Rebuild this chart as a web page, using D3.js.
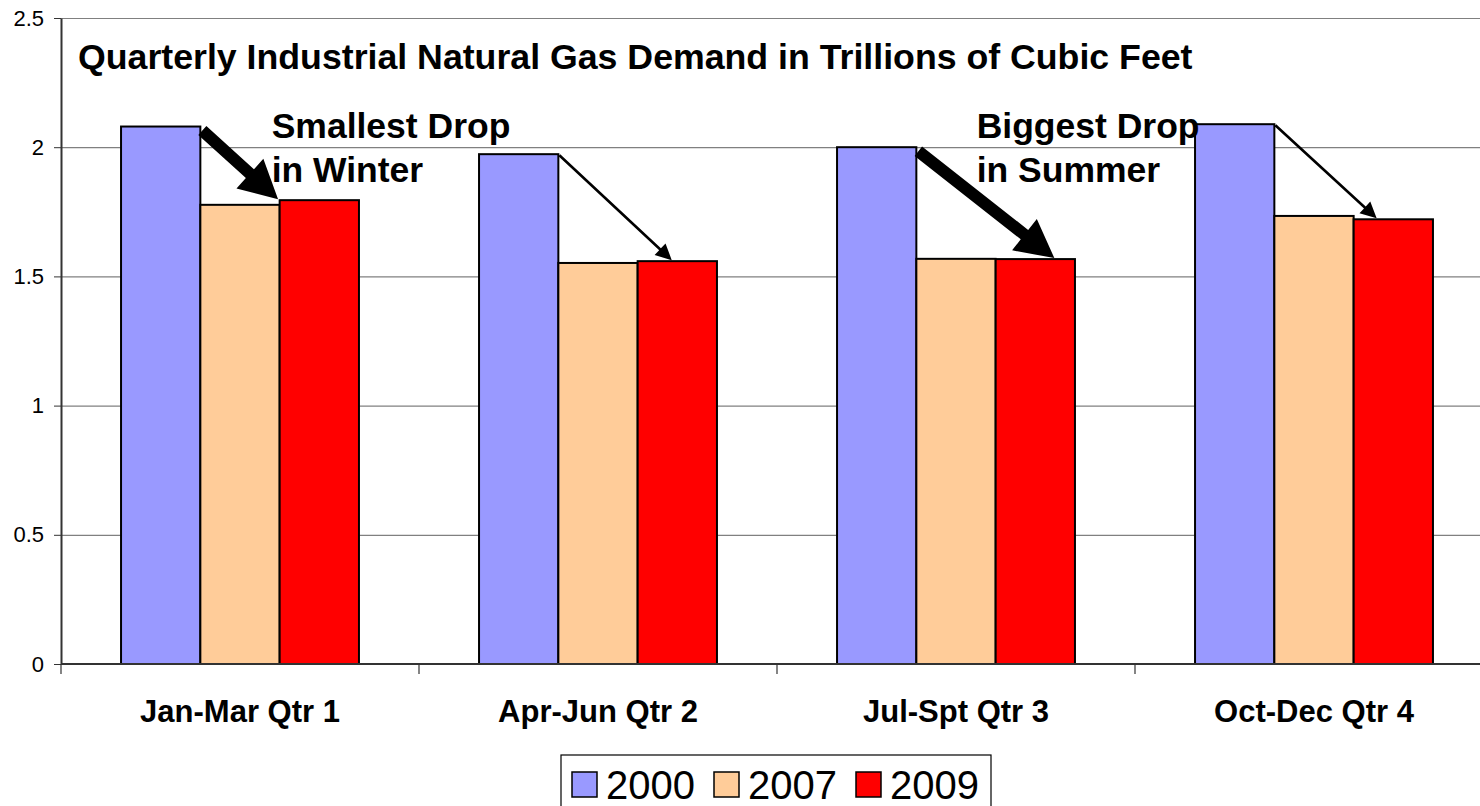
<!DOCTYPE html>
<html>
<head>
<meta charset="utf-8">
<script src="https://cdn.jsdelivr.net/npm/d3@7"></script>
<style>
  body { margin: 0; background: #fff; }
  svg { display: block; font-family: "Liberation Sans", Arial, sans-serif; }
</style>
</head>
<body>
<svg id="chart" width="1480" height="806"></svg>
<script>
// data
const quarters = ['Jan-Mar Qtr 1', 'Apr-Jun Qtr 2', 'Jul-Spt Qtr 3', 'Oct-Dec Qtr 4'];
const years = ['2000', '2007', '2009'];
const demand2000 = [2.08, 1.973, 2.0, 2.089];
const demand2007 = [1.777, 1.552, 1.568, 1.734];
const demand2009 = [1.795, 1.559, 1.567, 1.721];
const yTicks = [0, 0.5, 1, 1.5, 2, 2.5];
const colors = ['#9999ff', '#ffcc99', '#ff0000'];

const title = 'Quarterly Industrial Natural Gas Demand in Trillions of Cubic Feet';
// arrow from the 2000 bar to the 2009 bar in the same quarter
const arrowQuarters = [0, 1, 2, 3];
const arrowEndFrac = [-0.02, 0.43, 0.74, 0.29];
const arrowHeavy = [true, false, true, false];
const notes = [
  { q: 0, dx: -8, lines: ['Smallest Drop', 'in Winter'] },
  { q: 2, dx: -19, lines: ['Biggest Drop', 'in Summer'] }
];

const series = [demand2000, demand2007, demand2009];
const margin = { top: 18, left: 61 };
const step = 358;
const plotH = 646;

const svg = d3.select('#chart');
const g = svg.append('g')
  .attr('transform', 'translate(' + margin.left + ',' + margin.top + ')');

let x = d3.scaleBand()
  .domain(quarters)
  .range([0, step * quarters.length]);

let xs = d3.scaleBand()
  .domain(years)
  .range([0, x.bandwidth()])
  .paddingOuter(0.757);

let y = d3.scaleLinear()
  .domain([0, 2.5])
  .range([plotH, 0]);

// gridlines
g.append('g')
  .attr('class', 'grid')
  .call(d3.axisLeft(y).tickValues(yTicks.slice(1)).tickSize(-1600).tickFormat(''))
  .call(s => s.select('.domain').remove())
  .selectAll('line')
  .attr('stroke', '#808080')
  .attr('stroke-width', 1.2);

// bars
quarters.forEach(function(q, qi) {
  g.selectAll('.bar-' + qi)
    .data(years)
    .enter().append('rect')
    .attr('x', function(yr) { return x(q) + xs(yr); })
    .attr('width', xs.bandwidth())
    .attr('y', function(yr, i) { return y(series[i][qi]); })
    .attr('height', function(yr, i) { return plotH - y(series[i][qi]); })
    .attr('fill', function(yr, i) { return colors[i]; })
    .attr('stroke', '#000')
    .attr('stroke-width', 2);
});

// y axis
let yAxis = g.append('g')
  .call(d3.axisLeft(y).tickValues(yTicks).tickSize(7).tickPadding(10).tickSizeOuter(0)
    .tickFormat(function(d) { return String(d); }));
yAxis.select('.domain').attr('stroke', '#333').attr('stroke-width', 2);
yAxis.selectAll('.tick line').attr('stroke', '#333');
yAxis.selectAll('text')
  .attr('font-size', 22)
  .attr('fill', '#000');

// x axis line + boundary ticks
g.append('line')
  .attr('x1', 0).attr('x2', 1600)
  .attr('y1', plotH).attr('y2', plotH)
  .attr('stroke', '#333').attr('stroke-width', 2);

g.selectAll('.xtick')
  .data(quarters)
  .enter().append('line')
  .attr('x1', function(d) { return x(d); })
  .attr('x2', function(d) { return x(d); })
  .attr('y1', plotH)
  .attr('y2', plotH + 10)
  .attr('stroke', '#333')
  .attr('stroke-width', 1.2);

g.selectAll('.xlabel')
  .data(quarters)
  .enter().append('text')
  .attr('x', function(d) { return x(d) + x.bandwidth() / 2; })
  .attr('y', 704)
  .attr('text-anchor', 'middle')
  .attr('font-size', 31)
  .attr('font-weight', 'bold')
  .text(function(d) { return d; });

// title
g.append('text')
  .attr('x', 17)
  .attr('y', 51)
  .attr('font-size', 35.7)
  .attr('font-weight', 'bold')
  .text(title);

// notes
notes.forEach(function(n) {
  const nx = x(quarters[n.q]) + xs('2009') + n.dx;
  let t = g.append('text')
    .attr('font-size', 35.5)
    .attr('font-weight', 'bold');
  n.lines.forEach(function(line, i) {
    t.append('tspan')
      .attr('x', nx)
      .attr('y', 120 + i * 44)
      .text(line);
  });
});

// arrows
function arrowPath(x1, y1, x2, y2, w, hl, hw) {
  const dx = x2 - x1, dy = y2 - y1;
  const len = Math.sqrt(dx * dx + dy * dy);
  const ux = dx / len, uy = dy / len;
  const px = -uy, py = ux;
  const bx = x2 - ux * hl, by = y2 - uy * hl;
  const pts = [
    [x1 + px * w / 2, y1 + py * w / 2],
    [bx + px * w / 2, by + py * w / 2],
    [bx + px * hw / 2, by + py * hw / 2],
    [x2, y2],
    [bx - px * hw / 2, by - py * hw / 2],
    [bx - px * w / 2, by - py * w / 2],
    [x1 - px * w / 2, y1 - py * w / 2]
  ];
  return 'M' + pts.map(function(p) { return p.join(','); }).join('L') + 'Z';
}

arrowQuarters.forEach(function(qi, i) {
  const q = quarters[qi];
  const heavy = arrowHeavy[i];
  const x1 = x(q) + xs('2000') + xs.bandwidth() + (heavy ? 2 : 1);
  const y1 = y(demand2000[qi]) + (heavy ? 4 : 1);
  const x2 = x(q) + xs('2009') + arrowEndFrac[i] * xs.bandwidth();
  const y2 = y(demand2009[qi]) - 1;
  g.append('path')
    .attr('d', heavy ? arrowPath(x1, y1, x2, y2, 12, 38, 40) : arrowPath(x1, y1, x2, y2, 2.6, 16, 16))
    .attr('fill', '#000');
});

// legend
const legend = svg.append('g').attr('transform', 'translate(561,755)');
legend.append('rect')
  .attr('width', 430)
  .attr('height', 70)
  .attr('fill', '#fff')
  .attr('stroke', '#000')
  .attr('stroke-width', 1.2);

let item = legend.selectAll('.item')
  .data(years)
  .enter().append('g')
  .attr('transform', function(d, i) { return 'translate(' + (11 + i * 142) + ',17)'; });

item.append('rect')
  .attr('width', 25)
  .attr('height', 25)
  .attr('fill', function(d, i) { return colors[i]; })
  .attr('stroke', '#000')
  .attr('stroke-width', 1.5);

item.append('text')
  .attr('x', 34)
  .attr('y', 27)
  .attr('font-size', 40)
  .text(function(d) { return d; });
</script>
</body>
</html>
